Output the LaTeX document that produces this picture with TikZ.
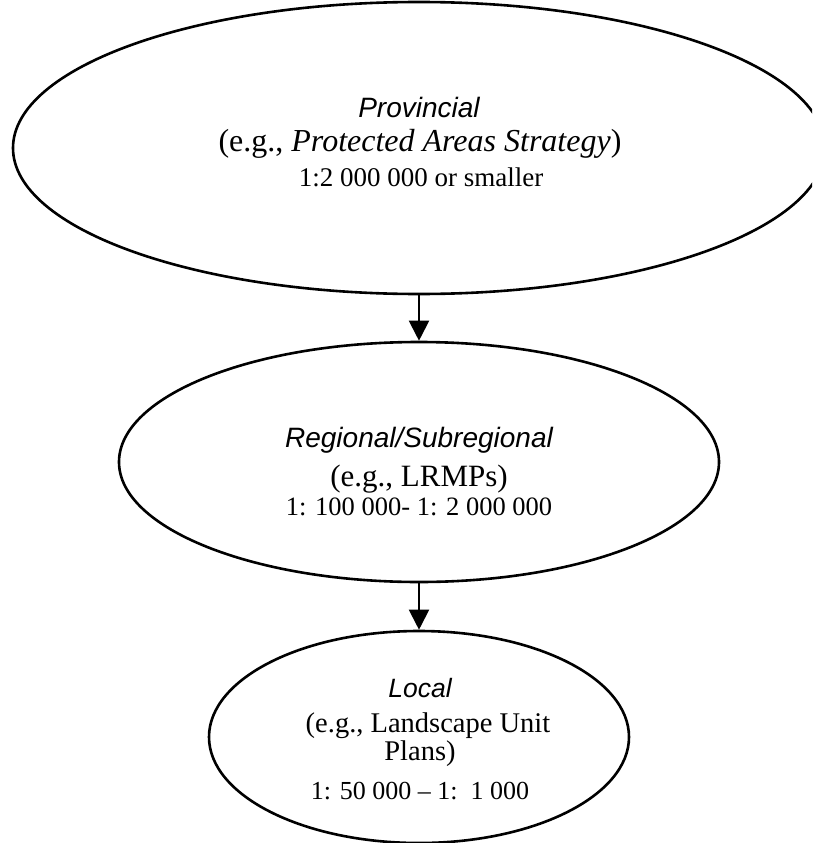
\documentclass[tikz,border=0pt]{standalone}
\usepackage{fontspec}
\setmainfont{Liberation Serif}
\newfontfamily\headfont{Liberation Sans}
\usetikzlibrary{shapes.geometric,arrows.meta}
\begin{document}
\begin{tikzpicture}[x=1pt,y=-1pt,
  bubble/.style={ellipse, draw, line width=2.6pt, inner sep=0pt},
  arr/.style={line width=2pt, -{Triangle[length=20pt,width=20pt]}},
  head/.style={anchor=base, inner sep=0pt, font=\headfont\itshape\fontsize{#1}{#1}\selectfont},
  txt/.style={anchor=base, inner sep=0pt, font=\fontsize{#1}{#1}\selectfont}]
\useasboundingbox (0,0) rectangle (812,843);

% planning levels, one ellipse each, all on one vertical axis
\begin{scope}
\clip (0,0) rectangle (812,843);
\node[bubble, minimum width=812pt, minimum height=292pt] (prov) at (419,148) {};
\node[bubble, minimum width=600pt, minimum height=240pt] (reg)  at (419,462) {};
\node[bubble, minimum width=420pt, minimum height=212pt] (loc)  at (419,737) {};
\end{scope}

% provincial
\node[head=28pt] (provA) at (419,117) {Provincial};
\node[txt=32pt]  (provB) at (420,151) {(e.g., \textit{Protected Areas Strategy})};
\node[txt=27pt]  (provC) at (421,186) {1:2 000 000 or smaller};

% regional / subregional
\node[head=28pt] (regA) at (419,447) {Regional/Subregional};
\node[txt=31pt]  (regB) at (419,486) {(e.g., LRMPs)};
\node[txt=26.5pt](regC) at (419,515) {1: 100 000- 1: 2 000 000};

% local
\node[head=26.5pt] (locA) at (420,697) {Local};
\node[txt=28.5pt]  (locB) at (428,732) {(e.g., Landscape Unit};
\node[txt=28.5pt]  (locC) at (420,760) {Plans)};
\node[txt=26pt]    (locD) at (420,799) {1: 50 000 -- 1:\ \ 1 000};

% hierarchy arrows
\draw[arr] (prov.south) -- (reg.north);
\draw[arr] (reg.south) -- (loc.north);
\end{tikzpicture}
\end{document}
